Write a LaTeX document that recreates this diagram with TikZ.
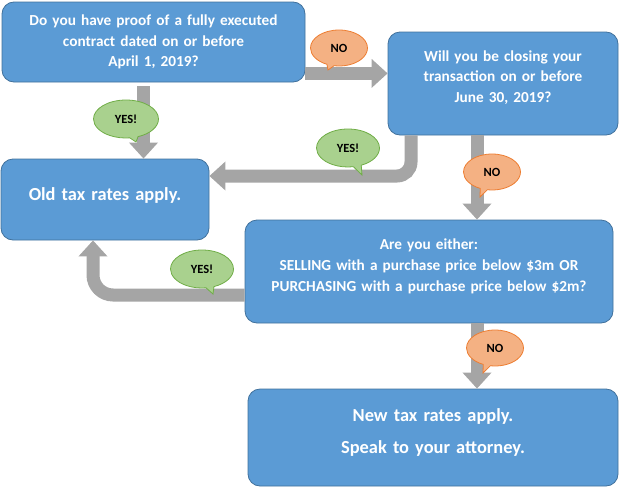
\documentclass[tikz,border=0pt]{standalone}
\usepackage{fontspec}
\setmainfont{Carlito}
\usetikzlibrary{positioning,shapes,shapes.callouts,arrows.meta}
\definecolor{boxblue}{HTML}{5B9BD5}
\definecolor{boxline}{HTML}{41719C}
\definecolor{pilgray}{HTML}{A5A5A5}
\definecolor{yesfill}{HTML}{A9D18E}
\definecolor{yesline}{HTML}{70AD47}
\definecolor{nofill}{HTML}{F4B183}
\definecolor{noline}{HTML}{ED7D31}
\tikzset{
    %Define standard arrow tip
    >={Triangle[width=28pt,length=16pt]},
    %Define style for boxes
    stepbox/.style={
           rectangle,
           rounded corners=12pt,
           draw=boxline, thick,
           fill=boxblue,
           text=white,
           font=\bfseries\fontsize{15.3}{20.7}\selectfont,
           align=center},
    bigtext/.style={
           font=\bfseries\fontsize{18.4}{22.5}\selectfont},
    % Define arrow style
    pil/.style={
           ->,
           draw=pilgray,
           line width=13pt},
    % Define style for speech bubbles
    bubble/.style={
           ellipse callout,
           thick,
           font=\bfseries\fontsize{12.5}{14}\selectfont,
           inner sep=0pt,
           minimum width=57pt,
           minimum height=36pt},
    yesbub/.style={bubble, fill=yesfill, draw=yesline},
    nobub/.style={bubble, fill=nofill, draw=noline}
}

\begin{document}
\begin{tikzpicture}[x=1pt,y=-1pt]
\useasboundingbox (0,0) rectangle (621,490);
\node [stepbox, minimum width=303pt, minimum height=80pt, text width=290pt] (q1) at (153.5,42)
    {Do you have proof of a fully executed\\contract dated on or before\\April 1, 2019?};
\node [stepbox, minimum width=230pt, minimum height=103pt, text width=220pt] (q2) at (503,83.5)
    {Will you be closing your\\transaction on or before\\June 30, 2019?\par\kern12pt};
\node [stepbox, bigtext, minimum width=208pt, minimum height=81pt, text width=198pt] (old) at (105,199.5)
    {Old tax rates apply.\par\kern9pt};
\node [stepbox, minimum width=368pt, minimum height=103pt, text width=358pt] (q3) at (429,271.5)
    {Are you either:\\SELLING with a purchase price below \$3m OR\\PURCHASING with a purchase price below \$2m?\par\kern10pt};
\node [stepbox, bigtext, minimum width=370pt, minimum height=97pt, text width=360pt] (new) at (433,437.5)
    {New tax rates apply.\\[10pt]Speak to your attorney.\par\kern10pt};
%arrows
\draw [pil] ([yshift=9pt]q1.south east) -- ([yshift=9pt]q1.south east -| q2.west);
\draw [pil] ([xshift=-10pt,yshift=-4pt]q1.south) -- ([xshift=-10pt]q1.south |- old.north);
\draw [pil, rounded corners=14pt] ([xshift=-92pt]q2.south) |- ([yshift=23.5pt]old.east);
\draw [pil] ([xshift=-26pt]q2.south) -- ([xshift=-26pt]q2.south |- q3.north);
\draw [pil, rounded corners=20pt] ([yshift=-23.5pt]q3.west) -| ([xshift=-12pt]old.south);
\draw [pil] ([xshift=48pt]q3.south) -- ([xshift=48pt]q3.south |- new.north);
%bubbles
\node [nobub, callout absolute pointer={(328,70)}] (no1) at (339,48) {NO};
\node [yesbub, minimum width=65pt, minimum height=38pt, callout absolute pointer={(136,142)}] (yes1) at (126,119) {YES!};
\node [yesbub, minimum width=63pt, minimum height=38pt, callout absolute pointer={(362,175)}] (yes2) at (348,148) {YES!};
\node [nobub, callout absolute pointer={(480,197)}] (no2) at (492,172) {NO};
\node [yesbub, minimum width=63pt, minimum height=38pt, callout absolute pointer={(213,294)}] (yes3) at (202,269) {YES!};
\node [nobub, callout absolute pointer={(483,373)}] (no3) at (495,348) {NO};
\end{tikzpicture}
\end{document}
